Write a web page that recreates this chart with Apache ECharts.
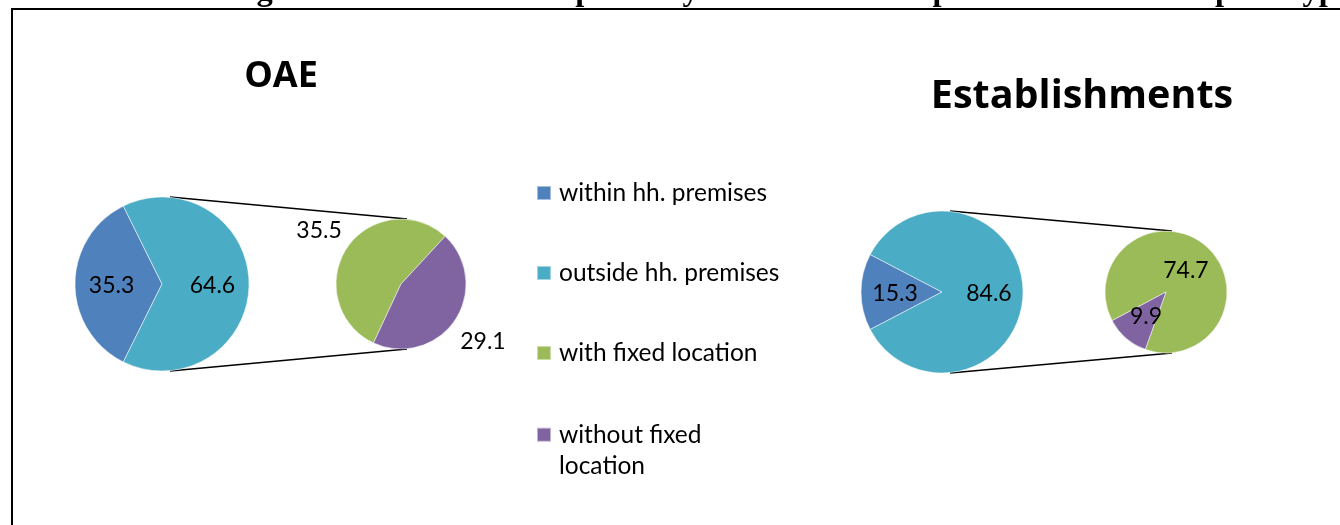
<!DOCTYPE html>
<html>
<head>
<meta charset="utf-8">
<script src="https://cdn.jsdelivr.net/npm/echarts@6/dist/echarts.min.js"></script>
<style>
  html, body { margin: 0; padding: 0; background: #fff; }
  #chart { width: 1340px; height: 525px; }
</style>
</head>
<body>
<div id="chart"></div>
<script>
  // data
  var categories = ['within hh. premises', 'outside hh. premises', 'with fixed location', 'without fixed location'];
  var oaeMain = [35.3, 64.6];
  var oaeSplit = [35.5, 29.1];
  var estMain = [15.3, 84.6];
  var estSplit = [74.7, 9.9];
  var colors = ['#4F81BD', '#4BACC6', '#9BBB59', '#8064A2'];

  var chart = echarts.init(document.getElementById('chart'));

  // mid angle of every slice, clockwise from startAngle
  function midAngles(values, start) {
    var sum = values.reduce(function (a, b) { return a + b; }, 0);
    var a = start;
    return values.map(function (v) {
      var span = v / sum * 360;
      var mid = a - span / 2;
      a -= span;
      return mid;
    });
  }

  // main pie: first slice centred on the left side
  function mainStart(values) {
    return 180 + 180 * values[0] / (values[0] + values[1]);
  }

  var pies = [
    { values: oaeMain, names: categories.slice(0, 2), center: [162, 284], r: 87, start: mainStart(oaeMain), k: 0.58 },
    { values: oaeSplit, names: categories.slice(2), center: [401, 284], r: 65, start: 245, k: 1.52 },
    { values: estMain, names: categories.slice(0, 2), center: [942, 292], r: 81, start: mainStart(estMain), k: 0.58 },
    { values: estSplit, names: categories.slice(2), center: [1166, 292], r: 61, start: 208, k: 0.5 }
  ];

  var series = pies.map(function (p) {
    var mids = midAngles(p.values, p.start);
    return {
      type: 'pie',
      center: p.center,
      radius: p.r,
      startAngle: p.start,
      clockwise: true,
      avoidLabelOverlap: false,
      label: {
        show: true,
        position: 'inside',
        formatter: '{c}',
        color: '#000',
        fontFamily: 'Lato',
        fontSize: 23
      },
      labelLine: { show: false },
      labelLayout: function (params) {
        var rad = mids[params.dataIndex] * Math.PI / 180;
        return {
          x: p.center[0] + p.k * p.r * Math.cos(rad),
          y: p.center[1] - p.k * p.r * Math.sin(rad) + 2,
          align: 'center',
          verticalAlign: 'middle'
        };
      },
      itemStyle: { borderColor: 'rgba(255,255,255,0.5)', borderWidth: 1 },
      emphasis: { scale: false },
      data: p.values.map(function (v, i) {
        return {
          name: p.names[i],
          value: v,
          itemStyle: { color: colors[categories.indexOf(p.names[i])] }
        };
      })
    };
  });

  // connector lines of the pie-of-pie
  function connectors(a, b) {
    return [
      { type: 'line', shape: { x1: a.center[0] + 8, y1: a.center[1] - a.r, x2: b.center[0] + 6, y2: b.center[1] - b.r }, style: { stroke: '#000', lineWidth: 1.5 } },
      { type: 'line', shape: { x1: a.center[0] + 8, y1: a.center[1] + a.r, x2: b.center[0] + 6, y2: b.center[1] + b.r }, style: { stroke: '#000', lineWidth: 1.5 } }
    ];
  }

  var graphics = [
    { type: 'text', x: 8, y: -8, style: { text: 'Chart 5: Percentage distribution of enterprises by location of enterprises for each enterprise type', font: 'bold 32.5px "Liberation Serif"', fill: '#000', verticalAlign: 'middle' } },
    { type: 'line', shape: { x1: 11, y1: 9, x2: 1340, y2: 9 }, style: { stroke: '#000', lineWidth: 2 } },
    { type: 'line', shape: { x1: 12, y1: 9, x2: 12, y2: 525 }, style: { stroke: '#000', lineWidth: 2 } },
    { type: 'text', x: 281, y: 77, style: { text: 'OAE', font: 'bold 36px "Open Sans"', fill: '#000', align: 'center', verticalAlign: 'middle' } },
    { type: 'text', x: 1082, y: 97, style: { text: 'Establishments', font: 'bold 39.5px "Open Sans"', fill: '#000', align: 'center', verticalAlign: 'middle' } }
  ].concat(connectors(pies[0], pies[1]), connectors(pies[2], pies[3]));

  chart.setOption({
    animation: false,
    legend: [
      {
        orient: 'vertical',
        left: 536,
        top: 177.5,
        padding: 0,
        itemWidth: 14,
        itemHeight: 14,
        itemGap: 49,
        icon: 'rect',
        data: categories.slice(0, 3),
        textStyle: { fontFamily: 'Lato', fontSize: 24.5, color: '#000', lineHeight: 31, padding: [0, 0, 0, 3] }
      },
      {
        // blank first line keeps the marker level with the first text line
        orient: 'vertical',
        left: 536,
        top: 388.2,
        padding: 0,
        itemWidth: 14,
        itemHeight: 14,
        icon: 'rect',
        data: categories.slice(3),
        formatter: function () { return '\nwithout fixed\nlocation'; },
        textStyle: { fontFamily: 'Lato', fontSize: 24.5, color: '#000', lineHeight: 31, padding: [0, 0, 0, 3] }
      }
    ],
    graphic: graphics,
    series: series
  });
</script>
</body>
</html>
